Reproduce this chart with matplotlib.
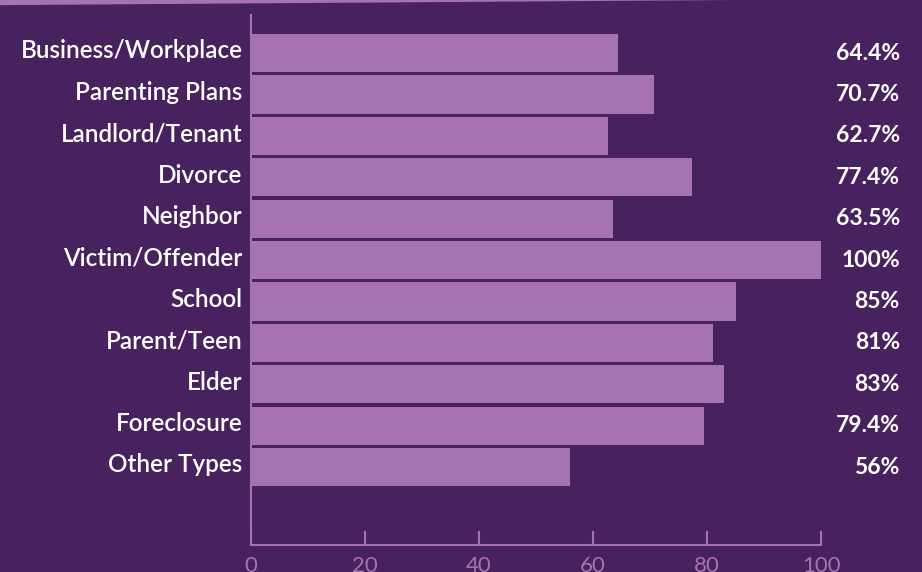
"""Mediation agreement rates by case type - horizontal bars on purple."""
import matplotlib
matplotlib.use("Agg")
import matplotlib.pyplot as plt
from matplotlib.patches import Polygon
from matplotlib.transforms import blended_transform_factory, ScaledTranslation

categories = ["Business/Workplace", "Parenting Plans", "Landlord/Tenant", "Divorce",
              "Neighbor", "Victim/Offender", "School", "Parent/Teen", "Elder",
              "Foreclosure", "Other Types"]
values = [64.4, 70.7, 62.7, 77.4, 63.5, 100, 85, 81, 83, 79.4, 56]
value_labels = ["64.4%", "70.7%", "62.7%", "77.4%", "63.5%", "100%", "85%", "81%",
                "83%", "79.4%", "56%"]
xticks = [0, 20, 40, 60, 80, 100]

BG = "#48215f"
BAR = "#a673b0"
plt.rcParams["font.family"] = ["Lato", "DejaVu Sans"]

fig = plt.figure(figsize=(9.22, 5.72), dpi=100, facecolor=BG)
# light band along the top edge
fig.patches.append(Polygon([[0, 1], [0, 0.991], [0.80, 1.0]], closed=True,
                           transform=fig.transFigure, facecolor=BAR, edgecolor="none"))

ax = fig.add_axes([0.2722, 0.0472, 0.6183, 0.9266])
ax.set_facecolor(BG)
y = list(range(len(categories)))
ax.barh(y, values, height=0.92, color=BAR)
ax.set_xlim(0, 100)
ax.set_ylim(len(categories) - 1 + 1.88, -0.92)

ax.set_yticks(y)
ax.set_yticklabels(categories, color="white", fontsize=17.5, fontweight="semibold")
ax.tick_params(axis="y", length=0, pad=6)
# category labels sit a touch above the bar centres
up = ScaledTranslation(0, 3 / 72, fig.dpi_scale_trans)
for lab in ax.get_yticklabels():
    lab.set_transform(lab.get_transform() + up)
ax.set_xticks(xticks)
ax.set_xticklabels([str(t) for t in xticks], color=BAR, fontsize=16)
ax.tick_params(axis="x", direction="in", length=10, width=1.5, color=BAR, pad=8)

for s in ["top", "right"]:
    ax.spines[s].set_visible(False)
for s in ["left", "bottom"]:
    ax.spines[s].set_color(BAR)
    ax.spines[s].set_linewidth(1.5)

tr = blended_transform_factory(fig.transFigure, ax.transData)
for yi, lab in zip(y, value_labels):
    ax.text(0.976, yi, lab, transform=tr, ha="right", va="center",
            color="white", fontsize=16.5, fontweight="bold")

fig.savefig("out.png", dpi=100, facecolor=BG)
